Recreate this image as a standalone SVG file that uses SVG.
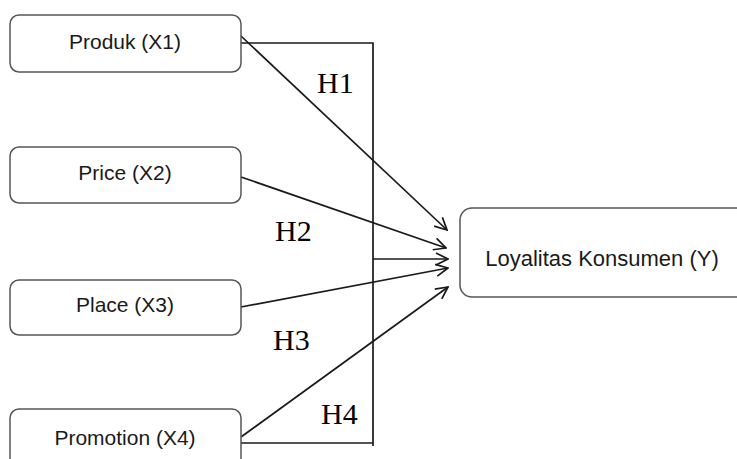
<svg xmlns="http://www.w3.org/2000/svg" width="737" height="459" viewBox="0 0 737 459">
<defs>
<style>
.box{fill:#fff;stroke:#555;stroke-width:1.5}
.t{font-family:"Liberation Sans",Arial,sans-serif;font-size:21px;fill:#1a1a1a;text-anchor:middle}
.h{font-family:"Liberation Serif","Times New Roman",serif;font-size:30px;fill:#000}
.c{stroke:#1a1a1a;stroke-width:1.7;fill:none}
</style>
<marker id="arr" viewBox="0 0 14 14" refX="13" refY="7" markerWidth="14" markerHeight="14" markerUnits="userSpaceOnUse" orient="auto">
<path d="M1,1 L13,7 L1,13" fill="none" stroke="#1a1a1a" stroke-width="1.7"/>
</marker>
</defs>
<rect width="737" height="459" fill="#fff"/>
<g id="connectors">
<polyline class="c" points="241,43 373,43 373,446"/>
<line class="c" x1="241" y1="443" x2="373" y2="443"/>
<line class="c" x1="241" y1="36" x2="447" y2="230" marker-end="url(#arr)"/>
<line class="c" x1="241" y1="177" x2="446" y2="248" marker-end="url(#arr)"/>
<line class="c" x1="373" y1="259" x2="448" y2="259" marker-end="url(#arr)"/>
<line class="c" x1="241" y1="307" x2="448" y2="268" marker-end="url(#arr)"/>
<line class="c" x1="241" y1="437" x2="448" y2="287" marker-end="url(#arr)"/>
</g>
<g id="n1"><rect class="box" x="10" y="15" width="231" height="57" rx="9"/><text class="t" x="125" y="49">Produk (X1)</text></g>
<g id="n2"><rect class="box" x="10" y="147" width="231" height="56" rx="9"/><text class="t" x="125" y="180">Price (X2)</text></g>
<g id="n3"><rect class="box" x="10" y="280" width="231" height="55" rx="9"/><text class="t" x="125" y="312">Place (X3)</text></g>
<g id="n4"><rect class="box" x="10" y="409" width="231" height="60" rx="9"/><text class="t" x="125" y="445">Promotion (X4)</text></g>
<g id="y"><rect class="box" x="460" y="208" width="290" height="89" rx="12"/><text class="t" x="602" y="266" style="font-size:22px">Loyalitas Konsumen (Y)</text></g>
<g id="labels">
<text class="h" x="317" y="93">H1</text>
<text class="h" x="275" y="241">H2</text>
<text class="h" x="273" y="350">H3</text>
<text class="h" x="321" y="424">H4</text>
</g>
</svg>
